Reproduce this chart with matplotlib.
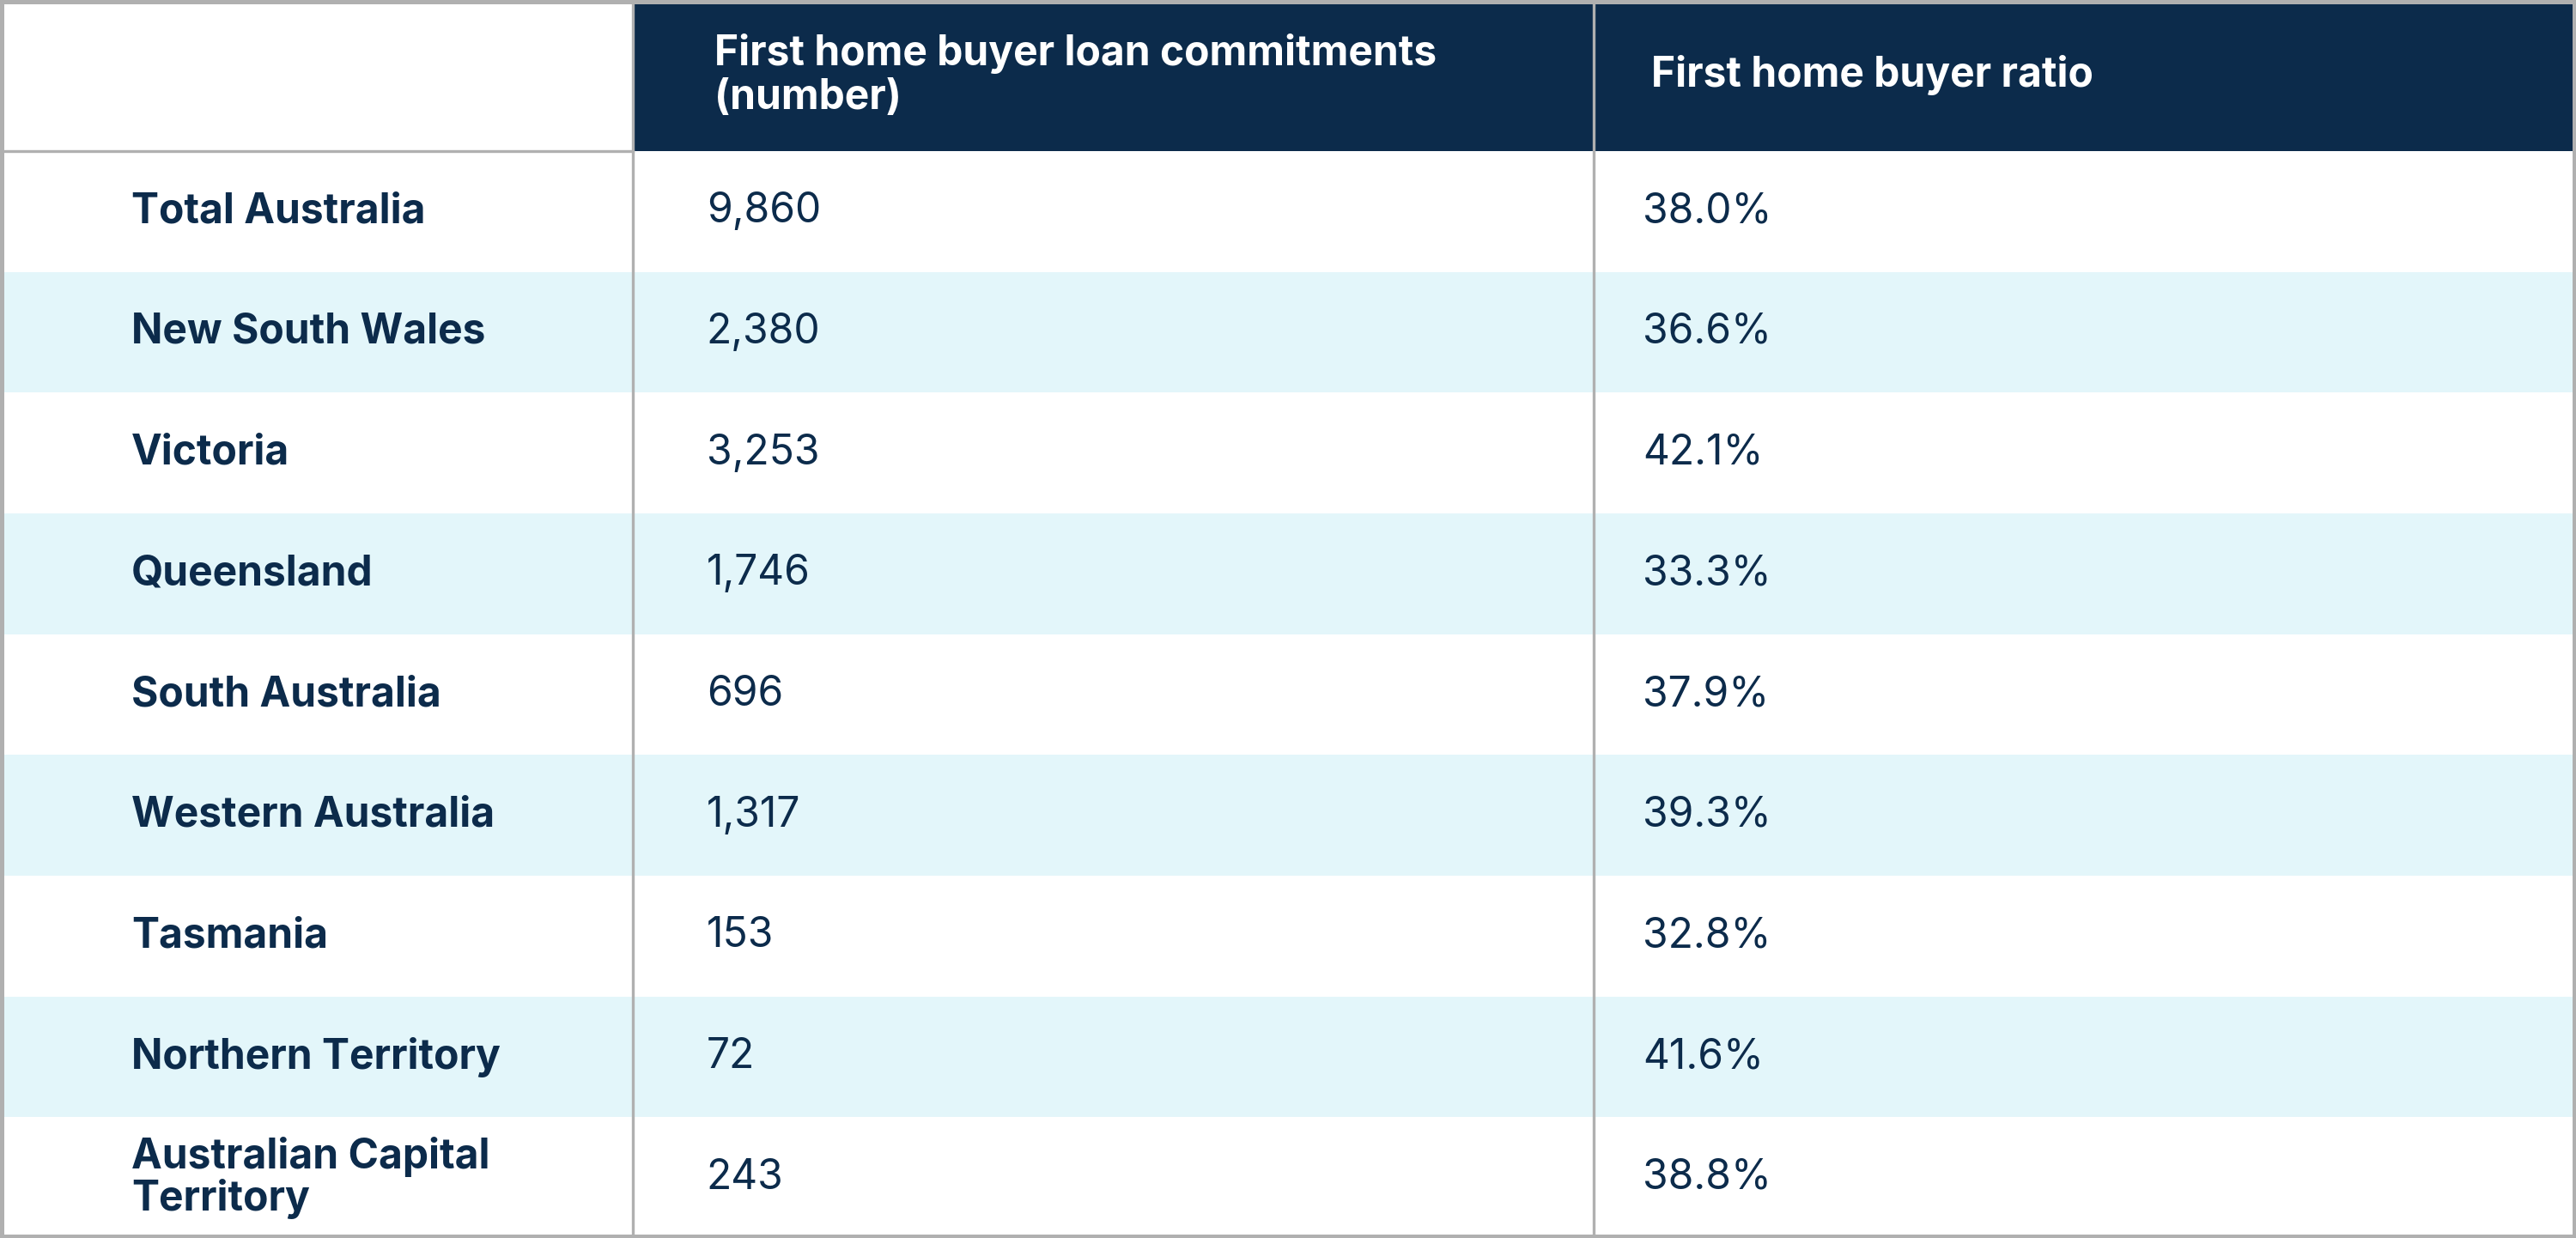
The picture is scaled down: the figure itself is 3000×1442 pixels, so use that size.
import matplotlib.pyplot as plt
from matplotlib.patches import Rectangle

regions = ["Total Australia", "New South Wales", "Victoria", "Queensland",
           "South Australia", "Western Australia", "Tasmania",
           "Northern Territory", "Australian Capital\nTerritory"]
commitments = ["9,860", "2,380", "3,253", "1,746", "696", "1,317", "153", "72", "243"]
ratios = ["38.0%", "36.6%", "42.1%", "33.3%", "37.9%", "39.3%", "32.8%", "41.6%", "38.8%"]
headers = ["", "First home buyer loan commitments\n(number)", "First home buyer ratio"]

navy = '#0c2b4b'
stripe = '#e3f6fa'
grid = '#b0b0b0'

W, H = 1568, 754
col_x = [0, 385, 970, W]
head_h = 92
row_h = (H - head_h) / len(regions)

fig = plt.figure(figsize=(10, 4.807), dpi=300)
ax = fig.add_axes([0, 0, 1, 1])
ax.set_xlim(0, W)
ax.set_ylim(H, 0)
ax.axis('off')

# header
ax.add_patch(Rectangle((col_x[1], 0), W - col_x[1], head_h, color=navy, lw=0))
ax.text(435, head_h / 2, headers[1], color='white', fontsize=11.5, fontweight='bold',
        family='Inter', va='center', ha='left', linespacing=1.15)
ax.text(1005, head_h / 2, headers[2], color='white', fontsize=11.5, fontweight='bold',
        family='Inter', va='center', ha='left')

for i, (r, c, p) in enumerate(zip(regions, commitments, ratios)):
    y0 = head_h + i * row_h
    yc = y0 + row_h / 2
    if i % 2 == 1:
        ax.add_patch(Rectangle((0, y0), W, row_h, color=stripe, lw=0))
    ax.text(80, yc, r, color=navy, fontsize=11.5, fontweight='bold', family='Inter',
            va='center', ha='left', linespacing=1.05)
    ax.text(430, yc, c, color=navy, fontsize=11.5, family='Inter', va='center', ha='left')
    ax.text(1000, yc, p, color=navy, fontsize=11.5, family='Inter', va='center', ha='left')

# grid lines
for x in col_x[1:3]:
    ax.plot([x, x], [0, H], color=grid, lw=0.8)
ax.plot([0, col_x[1]], [head_h, head_h], color=grid, lw=0.8)
ax.add_patch(Rectangle((1, 1), W - 2, H - 2, fill=False, ec=grid, lw=1.2))

plt.savefig('out.png', dpi=300)
